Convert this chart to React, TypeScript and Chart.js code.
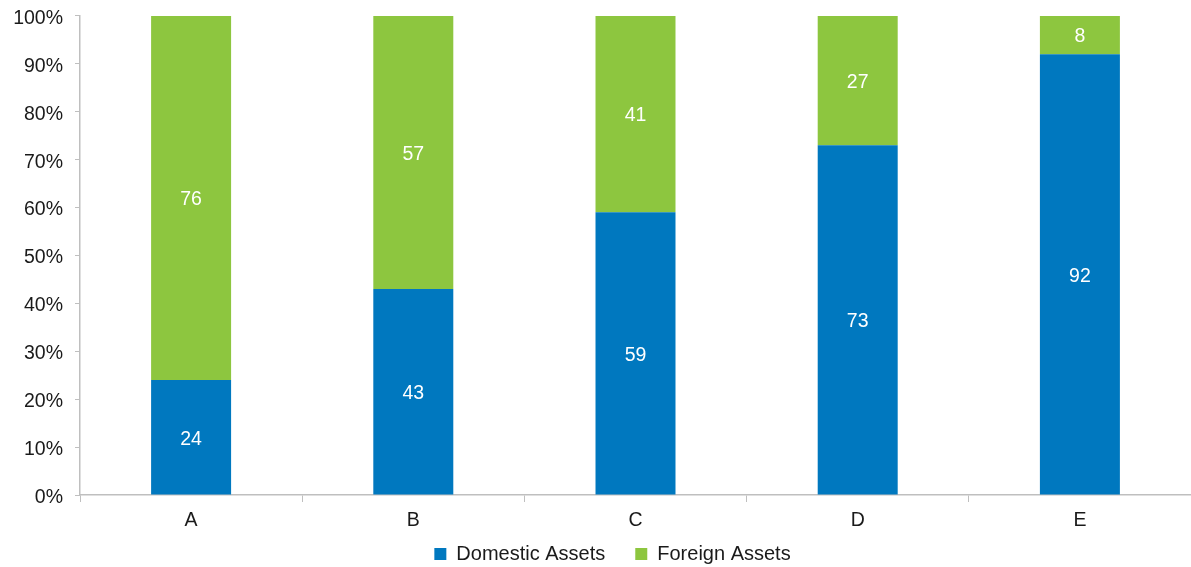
import React, { useEffect, useRef } from "react";
import { Chart, registerables } from "chart.js";

Chart.register(...registerables);

const categories = ["A", "B", "C", "D", "E"];
const domesticValues = [24, 43, 59, 73, 92];
const foreignValues = [76, 57, 41, 27, 8];
const seriesNames = ["Domestic Assets", "Foreign Assets"];
const yTickMax = 100;
const yTickStep = 10;

const BLUE = "#0078BF";
const GREEN = "#8DC63F";
const AXIS = "#BFBFBF";
const FONT = "'Liberation Sans', Arial, sans-serif";

const valueLabels = {
  id: "valueLabels",
  afterDatasetsDraw(chart: any) {
    const ctx = chart.ctx;
    ctx.save();
    ctx.font = `19.5px ${FONT}`;
    ctx.fillStyle = "#FFFFFF";
    ctx.textAlign = "center";
    ctx.textBaseline = "middle";
    chart.data.datasets.forEach((ds: any, i: number) => {
      const meta = chart.getDatasetMeta(i);
      meta.data.forEach((el: any, j: number) => {
        const v = ds.data[j];
        ctx.fillText(String(v), el.x, (el.y + el.base) / 2 + 2);
      });
    });
    ctx.restore();
  },
};

// give the legend its own drawing box after layout
const legendBox = {
  id: "legendBox",
  afterLayout(chart: any) {
    const lg = chart.legend;
    if (!lg) return;
    lg.top = 514;
    lg.bottom = chart.height;
    lg.height = lg.bottom - lg.top;
    lg.left += 17;
    lg.right += 17;
  },
};

export default function App() {
  const ref = useRef<HTMLCanvasElement | null>(null);
  useEffect(() => {
    if (!ref.current) return;
    const chart = new Chart(ref.current, {
      type: "bar",
      data: {
        labels: categories,
        datasets: [
          {
            label: seriesNames[0],
            data: domesticValues,
            backgroundColor: BLUE,
            barPercentage: 0.36,
            categoryPercentage: 1,
          },
          {
            label: seriesNames[1],
            data: foreignValues,
            backgroundColor: GREEN,
            barPercentage: 0.36,
            categoryPercentage: 1,
          },
        ],
      },
      plugins: [valueLabels, legendBox],
      options: {
        animation: false,
        responsive: false,
        maintainAspectRatio: false,
        layout: { padding: { top: 0, right: 0, left: 0, bottom: 0 } },
        plugins: {
          tooltip: { enabled: false },
          legend: {
            position: "bottom",
            maxHeight: 27.5,
            labels: {
              font: { family: FONT, size: 20 },
              color: "#1a1a1a",
              boxWidth: 12,
              boxHeight: 12,
              padding: 30,
            },
          },
        },
        scales: {
          x: {
            stacked: true,
            grid: {
              display: true,
              offset: true,
              drawOnChartArea: false,
              drawTicks: true,
              tickLength: 7,
              color: AXIS,
            },
            border: { display: true, color: AXIS, width: 1.5 },
            ticks: {
              font: { family: FONT, size: 19.5, lineHeight: 1 },
              color: "#1a1a1a",
              padding: 9,
            },
          },
          y: {
            stacked: true,
            min: 0,
            max: yTickMax,
            afterFit: (s: any) => {
              s.width = 80;
            },
            grid: {
              display: true,
              drawOnChartArea: false,
              drawTicks: true,
              tickLength: 5,
              color: AXIS,
            },
            border: { display: true, color: AXIS, width: 1.5 },
            ticks: {
              stepSize: yTickStep,
              font: { family: FONT, size: 19.5, lineHeight: 0.4 },
              color: "#1a1a1a",
              padding: 12,
              labelOffset: 2.5,
              callback: (v: any) => `${v}%`,
            },
          },
        },
      },
    });
    return () => chart.destroy();
  }, []);
  return (
    <div style={{ position: "fixed", left: 0, top: 0, width: 1191, height: 567, background: "#fff" }}>
      <canvas ref={ref} width={1191} height={567} />
    </div>
  );
}
